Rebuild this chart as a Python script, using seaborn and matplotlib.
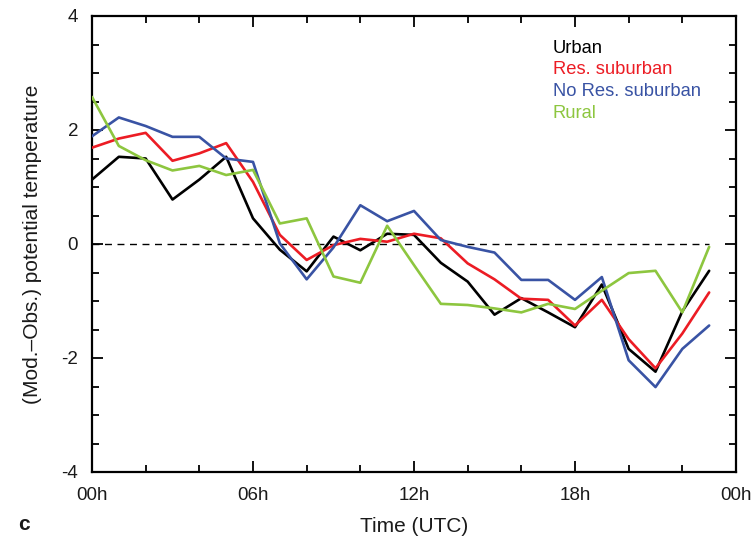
import numpy as np
import pandas as pd
import matplotlib
matplotlib.use("Agg")
import matplotlib.pyplot as plt
from matplotlib.ticker import MultipleLocator
import seaborn as sns

hours = list(range(24))
categories = ["Urban", "Res. suburban", "No Res. suburban", "Rural"]
urban = [1.13, 1.53, 1.50, 0.78, 1.13, 1.53, 0.45, -0.10, -0.48, 0.13, -0.11, 0.18,
         0.16, -0.33, -0.66, -1.24, -0.95, -1.20, -1.46, -0.71, -1.84, -2.24, -1.18, -0.47]
res_sub = [1.69, 1.85, 1.95, 1.46, 1.59, 1.77, 1.09, 0.16, -0.28, -0.02, 0.09, 0.04,
           0.18, 0.10, -0.34, -0.62, -0.96, -0.98, -1.43, -0.98, -1.67, -2.18, -1.57, -0.85]
nores_sub = [1.89, 2.22, 2.07, 1.88, 1.88, 1.50, 1.44, 0.01, -0.62, -0.06, 0.68, 0.40,
             0.58, 0.07, -0.05, -0.15, -0.63, -0.63, -0.98, -0.58, -2.04, -2.51, -1.84, -1.43]
rural = [2.58, 1.72, 1.47, 1.29, 1.37, 1.21, 1.30, 0.36, 0.45, -0.57, -0.68, 0.32,
         -0.37, -1.05, -1.07, -1.13, -1.20, -1.05, -1.14, -0.82, -0.51, -0.47, -1.20, -0.05]
colors = ["#000000", "#ec1c24", "#3953a4", "#8dc63f"]
xtick_vals = [0, 6, 12, 18, 24]
xtick_labels = ["00h", "06h", "12h", "18h", "00h"]
ytick_vals = [-4, -2, 0, 2, 4]
ytick_labels = ["-4", "-2", "0", "2", "4"]

series = [urban, res_sub, nores_sub, rural]
df = pd.concat([pd.DataFrame({"hour": hours, "value": s, "site": c})
                for s, c in zip(series, categories)], ignore_index=True)

sns.set_theme(style="white")
plt.rcParams['font.family'] = ['Liberation Sans', 'DejaVu Sans']

fig = plt.figure(figsize=(7.54, 5.47), dpi=100)
ax = fig.add_axes([92/754, 1 - 472/547, (736 - 92)/754, (472 - 16)/547])

sns.lineplot(data=df, x="hour", y="value", hue="site", hue_order=categories,
             palette=colors, linewidth=1.9, legend=False, ax=ax, zorder=3)
ax.hlines(0, hours[0], hours[-1], colors="black", linestyles=(0, (5, 4)),
          linewidth=1.0, zorder=2)

ax.set_xlim(0, 24)
ax.set_ylim(-4, 4)
ax.set_xticks(xtick_vals)
ax.set_xticklabels(xtick_labels)
ax.set_yticks(ytick_vals)
ax.set_yticklabels(ytick_labels)
ax.xaxis.set_minor_locator(MultipleLocator(2))
ax.yaxis.set_minor_locator(MultipleLocator(0.5))
ax.tick_params(which="both", direction="in", top=True, right=True,
               bottom=True, left=True, color="black", width=1.3, labelsize=13.5,
               labelcolor="#1a1a1a")
ax.tick_params(which="major", length=8)
ax.tick_params(which="minor", length=5)
ax.tick_params(axis="x", which="major", pad=11)
ax.tick_params(axis="y", which="major", pad=10)
for sp in ax.spines.values():
    sp.set_visible(True)
    sp.set_color("black")
    sp.set_linewidth(1.6)

ax.set_xlabel("Time (UTC)", fontsize=15, labelpad=9, color="#1a1a1a")
ax.set_ylabel("(Mod.\u2013Obs.) potential temperature", fontsize=15,
              labelpad=14, color="#1a1a1a")

for i, (name, col) in enumerate(zip(categories, colors)):
    ax.text(553/754, 1 - (53 + 21.5*i)/547, name, color=col, fontsize=13.2,
            transform=fig.transFigure, ha="left", va="baseline")

fig.text(24/754, 1 - 524/547, "c", fontsize=15, fontweight="bold",
         ha="center", va="center", color="#1a1a1a")

fig.savefig("out.png", dpi=100, facecolor="white")
